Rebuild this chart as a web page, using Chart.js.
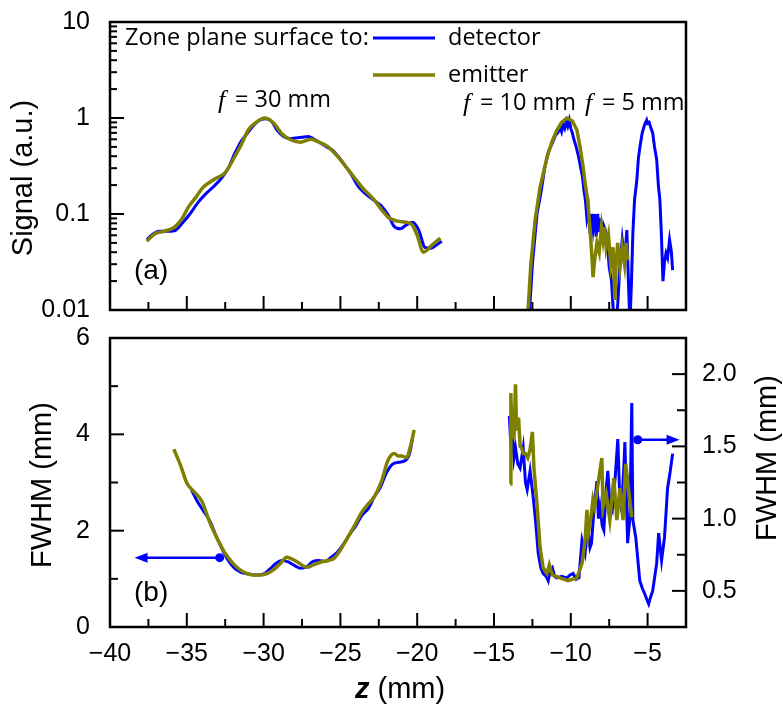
<!DOCTYPE html>
<html>
<head>
<meta charset="utf-8">
<script src="https://cdn.jsdelivr.net/npm/chart.js@4.4.1/dist/chart.umd.min.js"></script>
<style>
  body { margin: 0; background: #fff; }
  #wrap { position: relative; width: 783px; height: 710px; }
  canvas { position: absolute; left: 0; }
  #top { top: 0; }
  #bot { top: 320px; }
</style>
</head>
<body>
<div id="wrap">
  <canvas id="top" width="783" height="330"></canvas>
  <canvas id="bot" width="783" height="390"></canvas>
</div>
<script>
// ---- panel (a): signal, f = 30 mm ----
const zDetA = [-37.6, -37.2, -36.8, -36.3, -35.8, -35.3, -34.8, -34.3, -33.8, -33.3, -32.8, -32.3, -31.9, -31.5, -31.1, -30.7, -30.3, -29.9, -29.5, -29.1, -28.7, -28.3, -27.9, -27.5, -27.1, -26.7, -26.3, -25.9, -25.5, -25.1, -24.7, -24.3, -23.9, -23.5, -23.1, -22.7, -22.3, -21.9, -21.5, -21.1, -20.7, -20.3, -19.9, -19.5, -19.1, -18.7, -18.4];
const sDetA = [0.054, 0.062, 0.066, 0.066, 0.067, 0.08, 0.10, 0.13, 0.16, 0.19, 0.23, 0.30, 0.42, 0.56, 0.68, 0.82, 0.94, 0.98, 0.93, 0.74, 0.64, 0.61, 0.62, 0.63, 0.64, 0.6, 0.55, 0.5, 0.46, 0.39, 0.32, 0.26, 0.2, 0.17, 0.15, 0.135, 0.12, 0.098, 0.074, 0.07, 0.077, 0.082, 0.068, 0.045, 0.044, 0.048, 0.052];
const zEmiA = [-37.6, -37.1, -36.5, -35.8, -35.3, -34.9, -34.4, -34.0, -33.2, -32.5, -31.9, -31.4, -31.0, -30.5, -29.9, -29.3, -28.8, -28.2, -27.6, -26.9, -26.4, -25.8, -25.2, -24.5, -24.0, -23.6, -22.8, -22.3, -21.9, -21.4, -21.0, -20.4, -20.0, -19.6, -19.0, -18.5];
const sEmiA = [0.052, 0.062, 0.066, 0.073, 0.09, 0.118, 0.15, 0.185, 0.23, 0.27, 0.39, 0.55, 0.75, 0.9, 1.0, 0.87, 0.68, 0.59, 0.56, 0.6, 0.56, 0.5, 0.4, 0.29, 0.23, 0.19, 0.14, 0.11, 0.093, 0.085, 0.083, 0.079, 0.06, 0.04, 0.048, 0.056];

// ---- panel (a): signal, f = 10 mm and f = 5 mm ----
const zDetB = [-12.7, -12.5, -12.2, -11.95, -11.7, -11.45, -11.2, -11.0, -10.85, -10.7, -10.6, -10.5, -10.4, -10.3, -10.2, -10.1, -10.0, -9.9, -9.8, -9.65, -9.5, -9.35, -9.25, -9.15, -9.05, -8.95, -8.85, -8.75, -8.65, -8.55, -8.45, -8.35, -8.25, -8.15, -8.05, -7.95, -7.85, -7.75, -7.6, -7.5, -7.35, -7.2, -7.05, -6.95, -6.8, -6.65, -6.5, -6.35, -6.25, -6.15, -6.05, -5.96, -5.85, -5.7, -5.6, -5.5, -5.35, -5.2, -5.06, -5.0, -4.9, -4.8, -4.67, -4.55, -4.41, -4.3, -4.2, -4.1, -4.0, -3.9, -3.8, -3.7, -3.57, -3.45, -3.37];
const sDetB = [0.009, 0.03, 0.1, 0.165, 0.3, 0.45, 0.55, 0.66, 0.7, 0.8, 0.72, 0.85, 0.78, 0.92, 0.82, 0.95, 0.78, 0.7, 0.6, 0.5, 0.4, 0.3, 0.25, 0.18, 0.14, 0.09, 0.11, 0.063, 0.1, 0.07, 0.1, 0.058, 0.1, 0.065, 0.09, 0.054, 0.075, 0.068, 0.045, 0.028, 0.02, 0.008, 0.008, 0.011, 0.03, 0.054, 0.033, 0.068, 0.02, 0.007, 0.02, 0.063, 0.14, 0.226, 0.38, 0.5, 0.7, 0.85, 0.95, 0.88, 0.9, 0.8, 0.7, 0.5, 0.37, 0.2, 0.14, 0.06, 0.02, 0.032, 0.039, 0.035, 0.054, 0.04, 0.026];
const zEmiB = [-12.8, -12.6, -12.32, -12.0, -11.55, -11.2, -10.9, -10.6, -10.25, -9.9, -9.6, -9.4, -9.2, -9.05, -8.9, -8.75, -8.62, -8.55, -8.45, -8.3, -8.15, -8.0, -7.9, -7.8, -7.7, -7.55, -7.4, -7.25, -7.13, -7.05, -6.95, -6.8, -6.65, -6.5, -6.4, -6.3];
const sEmiB = [0.009, 0.03, 0.087, 0.19, 0.39, 0.58, 0.75, 0.9, 1.0, 0.93, 0.75, 0.5, 0.31, 0.2, 0.14, 0.07, 0.035, 0.022, 0.033, 0.05, 0.04, 0.073, 0.054, 0.073, 0.045, 0.06, 0.03, 0.045, 0.0127, 0.03, 0.05, 0.028, 0.045, 0.03, 0.05, 0.033];

// ---- panel (b): FWHM, f = 30 mm (left axis) ----
const zDetC = [-34.7, -34.3, -33.9, -33.5, -33.1, -32.7, -32.3, -31.9, -31.5, -31.0, -30.5, -30.0, -29.6, -29.2, -28.8, -28.4, -28.0, -27.6, -27.2, -26.8, -26.4, -26.0, -25.6, -25.2, -24.8, -24.4, -24.0, -23.6, -23.2, -22.8, -22.4, -22.0, -21.6, -21.2, -20.8, -20.5, -20.3];
const wDetC = [2.85, 2.6, 2.4, 2.2, 1.9, 1.62, 1.38, 1.22, 1.14, 1.1, 1.08, 1.1, 1.2, 1.32, 1.38, 1.35, 1.28, 1.22, 1.25, 1.36, 1.38, 1.36, 1.45, 1.55, 1.72, 1.92, 2.1, 2.32, 2.45, 2.7, 2.9, 3.2, 3.38, 3.42, 3.45, 3.6, 3.92];
const zEmiC = [-35.84, -35.4, -35.0, -34.5, -34.0, -33.6, -33.2, -32.8, -32.5, -32.2, -31.9, -31.5, -31.0, -30.6, -30.2, -29.7, -29.3, -28.9, -28.5, -28.2, -27.8, -27.2, -26.7, -26.25, -25.8, -25.4, -25.0, -24.5, -24.0, -23.66, -23.2, -22.8, -22.3, -21.9, -21.5, -21.2, -21.0, -20.7, -20.4, -20.2];
const wEmiC = [3.69, 3.35, 2.99, 2.8, 2.6, 2.25, 1.95, 1.7, 1.53, 1.4, 1.29, 1.18, 1.1, 1.08, 1.08, 1.12, 1.2, 1.32, 1.45, 1.42, 1.35, 1.24, 1.3, 1.35, 1.38, 1.43, 1.6, 1.87, 2.15, 2.36, 2.55, 2.7, 3.05, 3.46, 3.6, 3.55, 3.55, 3.52, 3.8, 4.09];

// ---- panel (b): FWHM, f = 10 mm and f = 5 mm (right axis) ----
const zDetD = [-14.0, -13.9, -13.8, -13.7, -13.6, -13.45, -13.3, -13.1, -12.95, -12.84, -12.65, -12.45, -12.3, -12.12, -11.95, -11.8, -11.6, -11.47, -11.35, -11.2, -11.05, -10.9, -10.6, -10.25, -10.05, -9.85, -9.65, -9.47, -9.27, -9.07, -8.9, -8.75, -8.65, -8.5, -8.3, -8.2, -8.1, -7.95, -7.85, -7.7, -7.59, -7.45, -7.3, -7.1, -6.94, -6.8, -6.7, -6.55, -6.48, -6.3, -6.15, -6.03, -5.96, -5.77, -5.51, -5.35, -5.19, -5.05, -4.93, -4.8, -4.67, -4.41, -4.28, -4.09, -3.9, -3.7, -3.55, -3.37];
const wDetD = [1.71, 1.5, 1.59, 1.42, 1.49, 1.38, 1.35, 1.49, 1.25, 1.20, 1.33, 1.15, 0.99, 0.76, 0.66, 0.62, 0.6, 0.57, 0.64, 0.66, 0.6, 0.59, 0.6, 0.59, 0.61, 0.62, 0.58, 0.59, 0.85, 0.76, 0.94, 0.8, 0.83, 1.05, 1.26, 1.0, 1.08, 0.95, 0.92, 1.2, 1.33, 1.1, 1.06, 1.3, 1.55, 1.1, 1.06, 1.35, 1.53, 0.83, 1.01, 1.80, 0.99, 0.87, 0.57, 0.52, 0.48, 0.44, 0.41, 0.46, 0.50, 0.69, 0.90, 0.71, 0.87, 1.21, 1.31, 1.45];
const zEmiD = [-13.94, -13.9, -13.85, -13.8, -13.7, -13.6, -13.55, -13.5, -13.4, -13.3, -13.2, -13.1, -12.96, -12.8, -12.65, -12.5, -12.4, -12.2, -12.0, -11.8, -11.55, -11.4, -11.2, -10.7, -10.18, -9.6, -9.27, -9.07, -8.95, -8.85, -8.7, -8.56, -8.45, -8.2, -7.98, -7.9, -7.7, -7.46, -7.2, -7.0, -6.8, -6.6, -6.42, -6.25, -6.03];
const wEmiD = [1.24, 1.87, 1.6, 1.77, 1.55, 1.93, 1.7, 1.61, 1.70, 1.5, 1.49, 1.45, 1.45, 1.42, 1.48, 1.6, 1.35, 1.1, 0.80, 0.66, 0.62, 0.68, 0.61, 0.59, 0.57, 0.59, 0.69, 0.85, 1.06, 0.9, 1.0, 1.13, 1.08, 1.26, 1.42, 1.08, 1.17, 0.99, 1.28, 0.99, 1.21, 0.99, 1.38, 1.21, 1.01];

// axis ticks
const xLabelVals = [-40, -35, -30, -25, -20, -15, -10, -5];
const xMinorVals = [-37.5, -32.5, -27.5, -22.5, -17.5, -12.5, -7.5];
const xMajorInner = [-35, -30, -25, -20, -15, -10, -5];
const sigLabelVals = [0.01, 0.1, 1, 10];
const sigMajorInner = [0.1, 1];
const sigMinorVals = [];
[0.01, 0.1, 1].forEach(d => { for (let k = 2; k <= 9; k++) sigMinorVals.push(d * k); });
const fwLabelVals = [0, 2, 4, 6];
const fwMinorVals = [1, 3, 5];
const fw2LabelVals = [0.5, 1.0, 1.5, 2.0];
const fw2MinorVals = [0.75, 1.25, 1.75];

const BLUE = "#0000ff";
const OLIVE = "#808000";
const TICK_FONT = { family: "'Liberation Sans', Arial, sans-serif", size: 25 };
const TEXT_FONT = "'Open Sans', sans-serif";
const ARIAL = "'Liberation Sans', Arial, sans-serif";

function pts(xs, ys) {
  return xs.map((x, i) => ({ x: x, y: ys[i] }));
}

function serie(xs, ys, color, width, eixo, smooth) {
  return {
    data: pts(xs, ys),
    borderColor: color,
    borderWidth: width,
    pointRadius: 0,
    fill: false,
    cubicInterpolationMode: smooth ? "monotone" : "default",
    tension: 0,
    yAxisID: eixo,
  };
}

// marcas de escala para dentro
function marcas(ctx, scale, vals, len, side, a) {
  vals.forEach(v => {
    const p = scale.getPixelForValue(v);
    ctx.beginPath();
    if (side === "bottom") { ctx.moveTo(p, a.bottom); ctx.lineTo(p, a.bottom - len); }
    if (side === "left") { ctx.moveTo(a.left, p); ctx.lineTo(a.left + len, p); }
    if (side === "right") { ctx.moveTo(a.right, p); ctx.lineTo(a.right - len, p); }
    ctx.stroke();
  });
}

function moldura(ctx, a) {
  ctx.strokeStyle = "#000";
  ctx.lineWidth = 2.5;
  ctx.strokeRect(a.left, a.top, a.right - a.left, a.bottom - a.top);
  ctx.lineWidth = 2;
}

function textoVertical(ctx, txt, x, y, font) {
  ctx.save();
  ctx.translate(x, y);
  ctx.rotate(-Math.PI / 2);
  ctx.font = font;
  ctx.textAlign = "center";
  ctx.textBaseline = "middle";
  ctx.fillStyle = "#000";
  ctx.fillText(txt, 0, 0);
  ctx.restore();
}

function rotuloF(ctx, x, y, resto) {
  ctx.fillStyle = "#000";
  ctx.textBaseline = "middle";
  ctx.textAlign = "left";
  ctx.font = "italic 26px 'Liberation Serif', serif";
  ctx.fillText("f", x, y + 1);
  ctx.font = "23.5px " + TEXT_FONT;
  ctx.fillText(resto, x + 17, y);
}

const decoTopo = {
  id: "decoTopo",
  afterDraw(chart) {
    const { ctx, chartArea: a } = chart;
    const sx = chart.scales.x, sy = chart.scales.y;
    ctx.save();
    moldura(ctx, a);
    marcas(ctx, sx, xMajorInner, 14, "bottom", a);
    marcas(ctx, sx, xMinorVals, 8, "bottom", a);
    marcas(ctx, sy, sigMajorInner, 14, "left", a);
    marcas(ctx, sy, sigMinorVals, 7, "left", a);

    // legenda
    ctx.fillStyle = "#000";
    ctx.textBaseline = "middle";
    ctx.font = "23.5px " + TEXT_FONT;
    ctx.fillText("Zone plane surface to:", 125, 38);
    ctx.lineWidth = 3;
    ctx.strokeStyle = BLUE;
    ctx.beginPath(); ctx.moveTo(373, 38); ctx.lineTo(435, 38); ctx.stroke();
    ctx.lineWidth = 3.5;
    ctx.strokeStyle = OLIVE;
    ctx.beginPath(); ctx.moveTo(373, 75); ctx.lineTo(435, 75); ctx.stroke();
    ctx.fillText("detector", 448, 38);
    ctx.fillText("emitter", 448, 75);

    rotuloF(ctx, 218, 100, "= 30 mm");
    rotuloF(ctx, 463, 103, "= 10 mm");
    rotuloF(ctx, 585, 103, "= 5 mm");

    ctx.font = "28px " + ARIAL;
    ctx.fillText("(a)", 134, 271);
    textoVertical(ctx, "Signal (a.u.)", 24, 178, "29px " + ARIAL);
    ctx.restore();
  },
};

const decoBase = {
  id: "decoBase",
  afterDraw(chart) {
    const { ctx, chartArea: a } = chart;
    const sx = chart.scales.x, sy = chart.scales.y, sy2 = chart.scales.y2;
    ctx.save();
    moldura(ctx, a);
    marcas(ctx, sx, xMajorInner, 14, "bottom", a);
    marcas(ctx, sx, xMinorVals, 8, "bottom", a);
    marcas(ctx, sy, [2, 4], 14, "left", a);
    marcas(ctx, sy, fwMinorVals, 8, "left", a);
    marcas(ctx, sy2, fw2LabelVals, 14, "right", a);
    marcas(ctx, sy2, fw2MinorVals, 9, "right", a);

    // setas
    function seta(x0, x1, y) {
      ctx.strokeStyle = BLUE;
      ctx.fillStyle = BLUE;
      ctx.lineWidth = 2.5;
      ctx.beginPath(); ctx.arc(x0, y, 4.5, 0, Math.PI * 2); ctx.fill();
      const dir = x1 > x0 ? 1 : -1;
      ctx.beginPath(); ctx.moveTo(x0, y); ctx.lineTo(x1 - dir * 10, y); ctx.stroke();
      ctx.beginPath();
      ctx.moveTo(x1, y);
      ctx.lineTo(x1 - dir * 13, y - 5);
      ctx.lineTo(x1 - dir * 13, y + 5);
      ctx.closePath();
      ctx.fill();
    }
    seta(sx.getPixelForValue(-32.86), sx.getPixelForValue(-38.4), sy.getPixelForValue(1.44));
    seta(sx.getPixelForValue(-5.64), sx.getPixelForValue(-2.92), sy2.getPixelForValue(1.546));

    ctx.fillStyle = "#000";
    ctx.textBaseline = "middle";
    ctx.font = "28px " + ARIAL;
    ctx.fillText("(b)", 134, 273);

    // titulo do eixo x
    ctx.font = "italic bold 29px " + ARIAL;
    ctx.fillText("z", 355, 370);
    const wz = ctx.measureText("z ").width;
    ctx.font = "29px " + ARIAL;
    ctx.fillText("(mm)", 355 + wz, 370);

    textoVertical(ctx, "FWHM (mm)", 43, 165, "29px " + ARIAL);
    textoVertical(ctx, "FWHM (mm)", 768, 138, "29px " + ARIAL);
    ctx.restore();
  },
};

const eixoX = (mostrar, altura) => ({
  type: "linear",
  min: -40,
  max: -2.5,
  grid: { display: false, drawTicks: false },
  border: { display: false },
  afterBuildTicks: s => { s.ticks = xLabelVals.map(v => ({ value: v })); },
  afterFit: s => { s.height = altura; },
  ticks: {
    display: mostrar,
    autoSkip: false,
    maxRotation: 0,
    padding: 12,
    color: "#000",
    font: TICK_FONT,
    callback: v => (v < 0 ? "\u2212" + Math.abs(v) : String(v)),
  },
});

// eixo y: o afastamento do rotulo vem do tickLength (grade invisivel) e nao do padding
const eixoY = (extra) => Object.assign({
  grid: { display: false, drawTicks: true, tickLength: 20 },
  border: { display: false },
}, extra);

new Chart(document.getElementById("top"), {
  type: "line",
  data: {
    datasets: [
      serie(zEmiA, sEmiA, OLIVE, 3.5, "y", true),
      serie(zEmiB, sEmiB, OLIVE, 3.5, "y", false),
      serie(zDetA, sDetA, BLUE, 3, "y", true),
      serie(zDetB, sDetB, BLUE, 3, "y", false),
    ],
  },
  options: {
    responsive: false,
    animation: false,
    layout: { padding: { top: 22, right: 97, bottom: 20, left: 0 } },
    plugins: { legend: { display: false }, tooltip: { enabled: false } },
    scales: {
      x: eixoX(false, 0),
      y: eixoY({
        type: "logarithmic",
        min: 0.01,
        max: 10,
        afterBuildTicks: s => { s.ticks = sigLabelVals.map(v => ({ value: v })); },
        afterFit: s => { s.width = 110; },
        ticks: {
          autoSkip: false,
          padding: 0,
          color: "#000",
          font: TICK_FONT,
          callback: v => String(v),
        },
      }),
    },
  },
  plugins: [decoTopo],
});

new Chart(document.getElementById("bot"), {
  type: "line",
  data: {
    datasets: [
      serie(zEmiC, wEmiC, OLIVE, 3.5, "y", true),
      serie(zEmiD, wEmiD, OLIVE, 3.5, "y2", false),
      serie(zDetC, wDetC, BLUE, 3, "y", true),
      serie(zDetD, wDetD, BLUE, 3, "y2", false),
    ],
  },
  options: {
    responsive: false,
    animation: false,
    layout: { padding: { top: 18, right: 0, bottom: 0, left: 0 } },
    plugins: { legend: { display: false }, tooltip: { enabled: false } },
    scales: {
      x: eixoX(true, 83),
      y: eixoY({
        type: "linear",
        position: "left",
        min: 0,
        max: 6,
        afterBuildTicks: s => { s.ticks = fwLabelVals.map(v => ({ value: v })); },
        afterFit: s => { s.width = 110; },
        ticks: { autoSkip: false, padding: 0, color: "#000", font: TICK_FONT },
      }),
      y2: eixoY({
        type: "linear",
        position: "right",
        min: 0.25,
        max: 2.25,
        grid: { display: false, drawTicks: true, tickLength: 16 },
        afterBuildTicks: s => { s.ticks = fw2LabelVals.map(v => ({ value: v })); },
        afterFit: s => { s.width = 97; },
        ticks: {
          autoSkip: false,
          padding: 0,
          color: "#000",
          font: TICK_FONT,
          callback: v => v.toFixed(1),
        },
      }),
    },
  },
  plugins: [decoBase],
});
</script>
</body>
</html>
